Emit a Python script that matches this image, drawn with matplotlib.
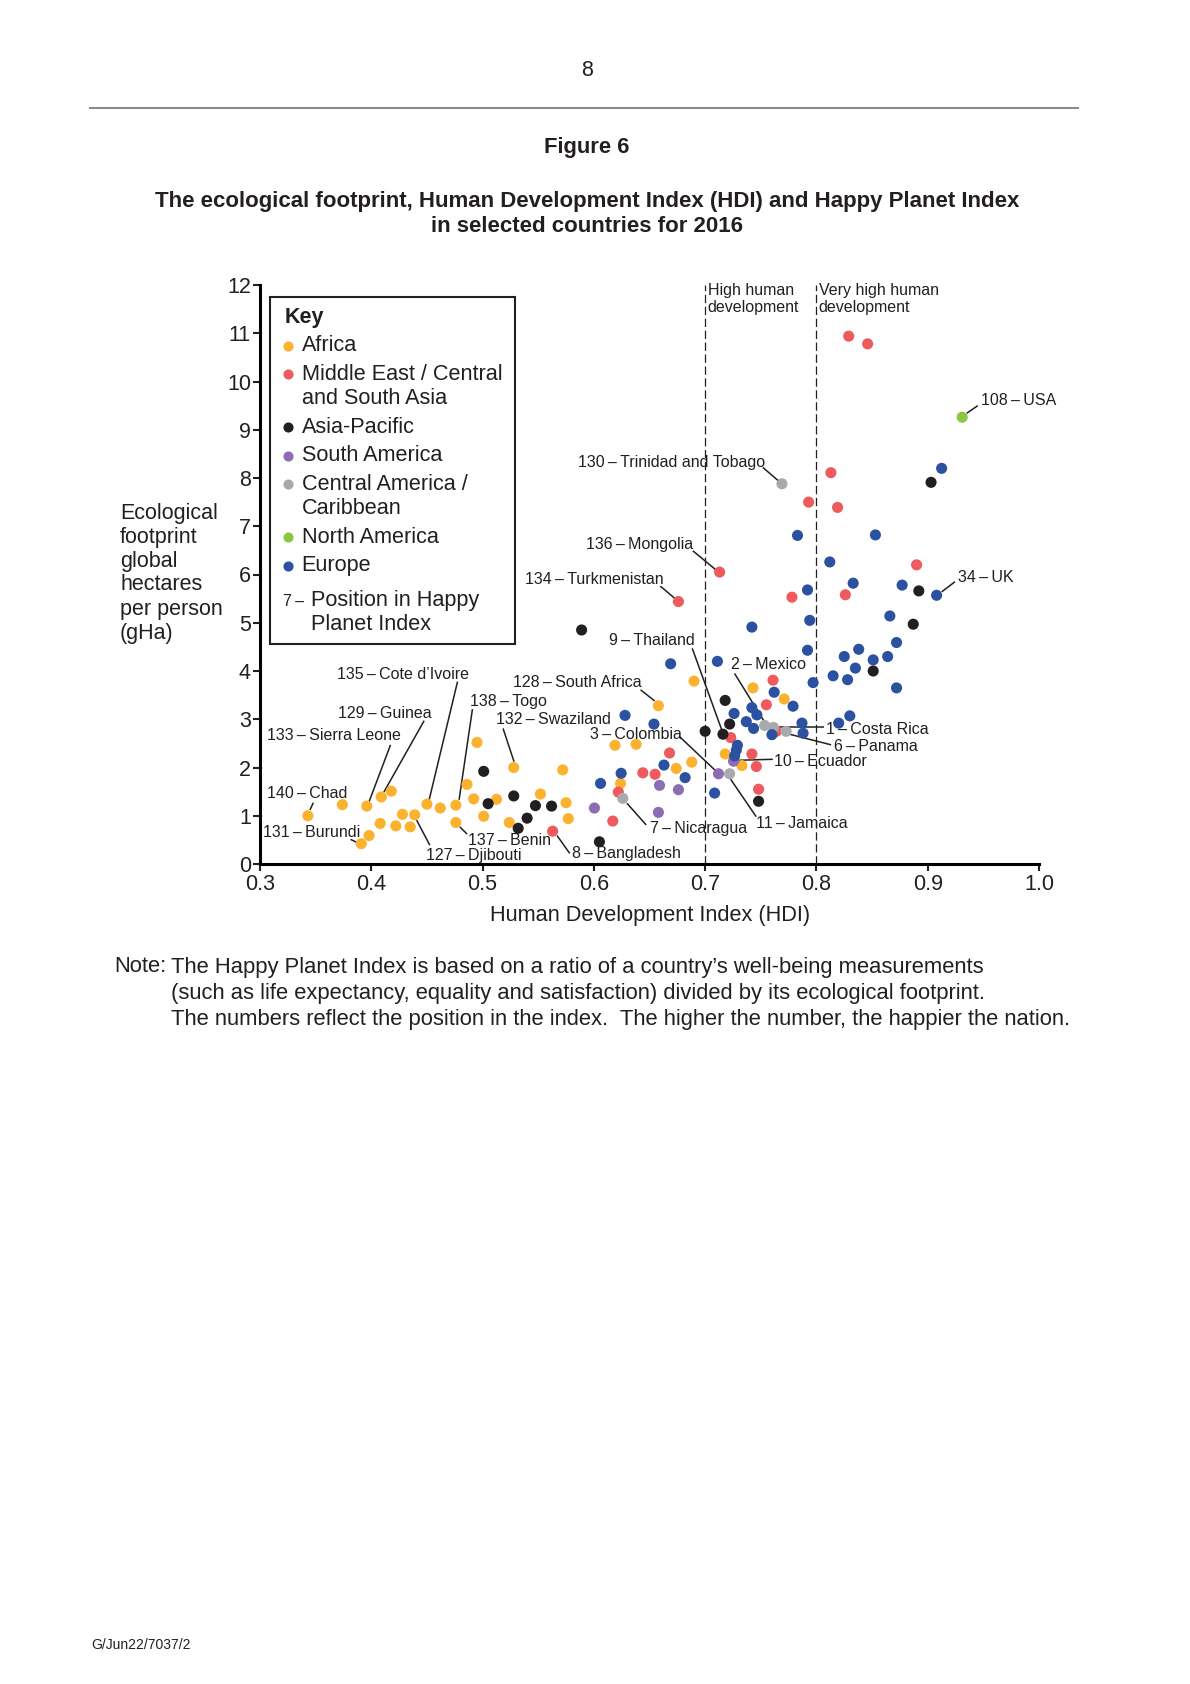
import matplotlib
matplotlib.use('Agg')
import matplotlib.pyplot as plt
from matplotlib.patches import Rectangle

plt.rcParams['font.family'] = ['Liberation Sans', 'DejaVu Sans']
plt.rcParams['lines.scale_dashes'] = False

# ---------------- data ----------------
africa_hdi = [0.343, 0.374, 0.396, 0.409, 0.418, 0.391, 0.398, 0.408, 0.422, 0.428,
              0.435, 0.439, 0.450, 0.462, 0.476, 0.476, 0.486, 0.495, 0.492, 0.501,
              0.5125, 0.528, 0.524, 0.552, 0.572, 0.575, 0.577, 0.619, 0.638, 0.624,
              0.658, 0.674, 0.688, 0.690, 0.718, 0.733, 0.743, 0.771]
africa_fp = [1.00, 1.23, 1.20, 1.39, 1.51, 0.42, 0.59, 0.84, 0.79, 1.03,
             0.77, 1.02, 1.24, 1.16, 1.22, 0.86, 1.65, 2.52, 1.35, 0.99,
             1.34, 2.00, 0.86, 1.45, 1.95, 1.27, 0.94, 2.46, 2.48, 1.67,
             3.28, 1.98, 2.11, 3.79, 2.28, 2.04, 3.65, 3.42]

mideast_hdi = [0.563, 0.617, 0.622, 0.644, 0.655, 0.668, 0.676, 0.713, 0.723, 0.742,
               0.746, 0.748, 0.755, 0.761, 0.764, 0.778, 0.793, 0.813, 0.819, 0.826,
               0.829, 0.846, 0.890]
mideast_fp = [0.68, 0.89, 1.49, 1.89, 1.86, 2.30, 5.44, 6.05, 2.62, 2.28,
              2.02, 1.55, 3.30, 3.81, 2.75, 5.53, 7.50, 8.11, 7.39, 5.58,
              10.94, 10.78, 6.20]

asiapac_hdi = [0.501, 0.505, 0.528, 0.532, 0.540, 0.5475, 0.562, 0.605, 0.589, 0.700,
               0.718, 0.722, 0.716, 0.748, 0.851, 0.887, 0.892, 0.903]
asiapac_fp = [1.92, 1.25, 1.41, 0.74, 0.95, 1.21, 1.20, 0.46, 4.85, 2.75,
              3.39, 2.90, 2.69, 1.30, 4.00, 4.97, 5.66, 7.91]

southam_hdi = [0.6005, 0.659, 0.676, 0.658, 0.7255, 0.712]
southam_fp = [1.16, 1.63, 1.54, 1.07, 2.13, 1.87]

centam_hdi = [0.626, 0.722, 0.7535, 0.7614, 0.7728, 0.769]
centam_fp = [1.36, 1.87, 2.87, 2.83, 2.75, 7.88]

northam_hdi = [0.931]
northam_fp = [9.26]

europe_hdi = [0.606, 0.6245, 0.628, 0.654, 0.663, 0.682, 0.669, 0.7085, 0.711, 0.726,
              0.729, 0.728, 0.7265, 0.737, 0.742, 0.7465, 0.7435, 0.760, 0.762, 0.779,
              0.787, 0.788, 0.742, 0.792, 0.797, 0.794, 0.792, 0.783, 0.812, 0.815,
              0.820, 0.830, 0.825, 0.828, 0.835, 0.838, 0.833, 0.851, 0.853, 0.864,
              0.866, 0.872, 0.872, 0.877, 0.908, 0.9125]
europe_fp = [1.67, 1.88, 3.08, 2.90, 2.05, 1.79, 4.15, 1.47, 4.20, 3.12,
             2.46, 2.36, 2.24, 2.95, 3.24, 3.09, 2.81, 2.68, 3.56, 3.27,
             2.92, 2.71, 4.91, 4.43, 3.76, 5.05, 5.68, 6.81, 6.26, 3.90,
             2.92, 3.07, 4.30, 3.82, 4.06, 4.45, 5.82, 4.23, 6.82, 4.30,
             5.14, 4.59, 3.65, 5.78, 5.57, 8.20]

region_names = ['Africa', 'Middle East / Central\nand South Asia', 'Asia-Pacific',
                'South America', 'Central America /\nCaribbean', 'North America', 'Europe']
x_ticks = [0.3, 0.4, 0.5, 0.6, 0.7, 0.8, 0.9, 1.0]
x_tick_labels = ['0.3', '0.4', '0.5', '0.6', '0.7', '0.8', '0.9', '1.0']
y_ticks = list(range(0, 13))

label_texts = ['108\u2009–\u2009USA', '130\u2009–\u2009Trinidad and Tobago', '136\u2009–\u2009Mongolia',
               '134\u2009–\u2009Turkmenistan', '34\u2009–\u2009UK', '9\u2009–\u2009Thailand',
               '2\u2009–\u2009Mexico', '135\u2009–\u2009Cote d’Ivoire', '128\u2009–\u2009South Africa',
               '138\u2009–\u2009Togo', '129\u2009–\u2009Guinea', '132\u2009–\u2009Swaziland',
               '133\u2009–\u2009Sierra Leone', '3\u2009–\u2009Colombia', '1\u2009–\u2009Costa Rica',
               '6\u2009–\u2009Panama', '10\u2009–\u2009Ecuador', '140\u2009–\u2009Chad',
               '11\u2009–\u2009Jamaica', '7\u2009–\u2009Nicaragua', '131\u2009–\u2009Burundi',
               '137\u2009–\u2009Benin', '8\u2009–\u2009Bangladesh', '127\u2009–\u2009Djibouti']

# ---------------- layout (positions of annotation texts and leader lines) ----------------
label_layout = [
    ((0.948, 9.60), (0.945, 9.50), (0.935, 9.34)),
    ((0.5855, 8.32), (0.7518, 8.22), (0.7659, 7.94)),
    ((0.5933, 6.63), (0.689, 6.49), (0.710, 6.09)),
    ((0.5379, 5.90), (0.6597, 5.76), (0.6725, 5.51)),
    ((0.9268, 5.94), (0.9245, 5.85), (0.9125, 5.64)),
    ((0.6137, 4.63), (0.6884, 4.47), (0.716, 2.71)),
    ((0.7234, 4.14), (0.7264, 3.95), (0.7527, 2.97)),
    ((0.3688, 3.93), (0.4775, 3.78), (0.452, 1.33)),
    ((0.5274, 3.76), (0.642, 3.61), (0.6546, 3.38)),
    ((0.489, 3.36), (0.4909, 3.21), (0.4789, 1.33)),
    ((0.3703, 3.12), (0.4475, 2.97), (0.4113, 1.49)),
    ((0.5125, 3.00), (0.5184, 2.81), (0.5283, 2.12)),
    ((0.306, 2.67), (0.4173, 2.47), (0.398, 1.29)),
    ((0.5962, 2.69), (0.677, 2.64), (0.7114, 1.89)),
    ((0.809, 2.79), (0.8072, 2.83), (0.7653, 2.83)),
    ((0.8162, 2.43), (0.8132, 2.47), (0.7758, 2.69)),
    ((0.7623, 2.13), (0.7608, 2.17), (0.730, 2.15)),
    ((0.306, 1.46), (0.3479, 1.27), (0.3449, 1.12)),
    ((0.7459, 0.84), (0.7459, 0.98), (0.7228, 1.76)),
    ((0.650, 0.74), (0.647, 0.81), (0.6297, 1.26)),
    ((0.303, 0.65), (0.3814, 0.51), (0.3886, 0.43)),
    ((0.487, 0.48), (0.4861, 0.62), (0.4795, 0.77)),
    ((0.5807, 0.21), (0.5783, 0.22), (0.5669, 0.59)),
    ((0.4496, 0.17), (0.4526, 0.39), (0.4407, 0.91)),
]

colors = ['#FBB22F', '#EF5A5D', '#231F20', '#8C6DB3', '#A7A9AC', '#8DC63F', '#2B51A1']

W, H, DPI = 1190, 1684, 100
fig = plt.figure(figsize=(W / DPI, H / DPI), dpi=DPI)
fig.patch.set_facecolor('white')

L, R, B, T = 260, 1039, 864, 285
ax = fig.add_axes([L / W, 1 - B / H, (R - L) / W, (B - T) / H])
ax.patch.set_alpha(0)
ax.set_xlim(0.3, 1.0)
ax.set_ylim(0, 12)
for s in ['top', 'right']:
    ax.spines[s].set_visible(False)
for s in ['left', 'bottom']:
    ax.spines[s].set_linewidth(2.2)
ax.set_xticks(x_ticks)
ax.set_xticklabels(x_tick_labels)
ax.set_yticks(y_ticks)
ax.tick_params(axis='both', direction='out', length=5, width=1.5, labelsize=15.5,
               colors='#231F20')
ax.tick_params(axis='y', pad=1.5)
ax.tick_params(axis='x', pad=2)

# dashed development thresholds
for xv in [0.7, 0.8]:
    ax.plot([xv, xv], [0, 12], color='#231F20', lw=0.9, dashes=(6, 2.6), zorder=1)
ax.text(0.7024, 11.88, 'High human', fontsize=11.5, ha='left', va='center', color='#231F20')
ax.text(0.7024, 11.53, 'development', fontsize=11.5, ha='left', va='center', color='#231F20')
ax.text(0.802, 11.88, 'Very high human', fontsize=11.5, ha='left', va='center', color='#231F20')
ax.text(0.802, 11.53, 'development', fontsize=11.5, ha='left', va='center', color='#231F20')

series = [(africa_hdi, africa_fp), (mideast_hdi, mideast_fp), (asiapac_hdi, asiapac_fp),
          (southam_hdi, southam_fp), (centam_hdi, centam_fp), (northam_hdi, northam_fp),
          (europe_hdi, europe_fp)]
for (xs, ys), c in zip(series, colors):
    ax.scatter(xs, ys, s=64, c=c, edgecolors='none', zorder=3, clip_on=False)

for txt, (tpos, p1, p2) in zip(label_texts, label_layout):
    ax.text(tpos[0], tpos[1], txt, fontsize=11.5, ha='left', va='center', color='#231F20',
            zorder=4)
    ax.plot([p1[0], p2[0]], [p1[1], p2[1]], color='#231F20', lw=1.1, zorder=2,
            solid_capstyle='butt', clip_on=False)

# ---------------- page overlay in pixel coordinates ----------------
ov = fig.add_axes([0, 0, 1, 1], zorder=5)
ov.patch.set_alpha(0)
ov.set_xlim(0, W)
ov.set_ylim(H, 0)
ov.axis('off')

ink = '#231F20'
ov.text(587, 71, '8', fontsize=15.5, ha='center', va='center', color=ink)
ov.plot([90, 1078], [107.5, 107.5], color='#8A8A8A', lw=1.5)
ov.text(587, 148, 'Figure 6', fontsize=15.8, fontweight='bold', ha='center', va='center', color=ink)
ov.text(587, 202, 'The ecological footprint, Human Development Index (HDI) and Happy Planet Index',
        fontsize=16.0, fontweight='bold', ha='center', va='center', color=ink)
ov.text(587, 227, 'in selected countries for 2016', fontsize=16.0, fontweight='bold',
        ha='center', va='center', color=ink)

# y-axis label
for txt, yy in zip(['Ecological', 'footprint', 'global', 'hectares', 'per person', '(gHa)'],
                   [514, 537.5, 561, 585, 609.5, 633]):
    ov.text(120, yy, txt, fontsize=15.5, ha='left', va='center', color=ink)
# x-axis label
ov.text(650, 916, 'Human Development Index (HDI)', fontsize=15.7, ha='center', va='center', color=ink)

# legend
ov.add_patch(Rectangle((270, 297), 245, 347, facecolor='white', edgecolor=ink, lw=1.5, zorder=1))
ov.text(285, 318, 'Key', fontsize=15.5, fontweight='bold', ha='left', va='center', color=ink, zorder=2)
leg_rows = [(345.7, [region_names[0]]),
            (374.0, region_names[1].split('\n')),
            (427.3, [region_names[2]]),
            (455.7, [region_names[3]]),
            (484.0, region_names[4].split('\n')),
            (537.3, [region_names[5]]),
            (566.0, [region_names[6]])]
for (yy, lines), c in zip(leg_rows, colors):
    ov.plot([287.7], [yy], 'o', ms=7.3, color=c, mec='none', zorder=2)
    for k, ln in enumerate(lines):
        ov.text(301.7, yy + k * 24.3, ln, fontsize=15.6, ha='left', va='center', color=ink, zorder=2)
ov.text(283.3, 601.5, '7\u2009–', fontsize=11.5, ha='left', va='center', color=ink, zorder=2)
ov.text(311, 600.7, 'Position in Happy', fontsize=15.6, ha='left', va='center', color=ink, zorder=2)
ov.text(311, 624.0, 'Planet Index', fontsize=15.6, ha='left', va='center', color=ink, zorder=2)

# note
ov.text(114, 967, 'Note:', fontsize=15.85, ha='left', va='center', color=ink)
ov.text(171, 967, 'The Happy Planet Index is based on a ratio of a country’s well-being measurements',
        fontsize=15.85, ha='left', va='center', color=ink)
ov.text(171, 993, '(such as life expectancy, equality and satisfaction) divided by its ecological footprint.',
        fontsize=15.85, ha='left', va='center', color=ink)
ov.text(171, 1020, 'The numbers reflect the position in the index.  The higher the number, the happier the nation.',
        fontsize=15.85, ha='left', va='center', color=ink)

ov.text(91, 1645, 'G/Jun22/7037/2', fontsize=10, ha='left', va='center', color=ink)

fig.savefig('out.png', dpi=DPI, facecolor='white')
